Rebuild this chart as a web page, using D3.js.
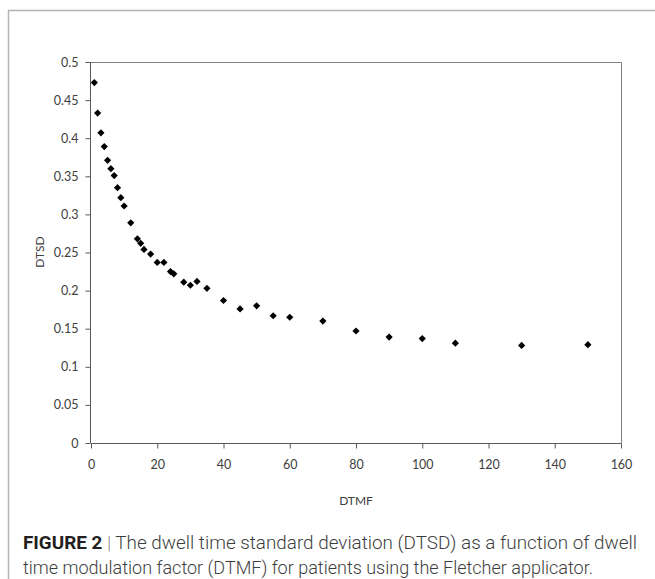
<!DOCTYPE html>
<html>
<head>
<meta charset="utf-8">
<script src="https://cdn.jsdelivr.net/npm/d3@7"></script>
<style>
  body { margin: 0; background: #fff; }
  svg { display: block; }
</style>
</head>
<body>
<svg width="655" height="579"></svg>
<script>
// DTMF (x) and DTSD (y) values
const dtmf = [1, 2, 3, 4, 5, 6, 7, 8, 9, 10, 12, 14, 15, 16, 18, 20, 22, 24, 25,
  28, 30, 32, 35, 40, 45, 50, 55, 60, 70, 80, 90, 100, 110, 130, 150];
const dtsd = [0.473, 0.433, 0.407, 0.389, 0.371, 0.360, 0.351, 0.335, 0.322, 0.311,
  0.289, 0.268, 0.262, 0.254, 0.248, 0.237, 0.237, 0.225, 0.222,
  0.211, 0.207, 0.212, 0.203, 0.187, 0.176, 0.180, 0.167, 0.165, 0.160,
  0.147, 0.139, 0.137, 0.131, 0.128, 0.129];
const xTicks = [0, 20, 40, 60, 80, 100, 120, 140, 160];
const yTicks = [0, 0.05, 0.1, 0.15, 0.2, 0.25, 0.3, 0.35, 0.4, 0.45, 0.5];

const data = dtmf.map((x, i) => ({ x: x, y: dtsd[i] }));

const svg = d3.select('svg');

// figure frame
svg.append('path')
  .attr('d', 'M8.5,579 V10.5 H655')
  .attr('fill', 'none')
  .attr('stroke', '#b4b4b4')
  .attr('stroke-width', 1.5);

const margin = { left: 91, top: 62, right: 621, bottom: 443 };

const xScale = d3.scaleLinear().domain([0, 160]).range([margin.left, margin.right]);
const yScale = d3.scaleLinear().domain([0, 0.5]).range([margin.bottom, margin.top]);

// plot area border (top / right)
svg.append('path')
  .attr('d', `M${margin.left},${margin.top + 0.5} H${margin.right + 0.5} V${margin.bottom}`)
  .attr('fill', 'none')
  .attr('stroke', '#7f7f7f')
  .attr('stroke-width', 1);

const tickFont = 'Lato, "Open Sans", sans-serif';

// x axis
const xAxisG = svg.append('g')
  .attr('transform', `translate(0,${margin.bottom + 0.5})`)
  .call(d3.axisBottom(xScale).tickValues(xTicks).tickSize(5).tickPadding(12).tickFormat(d3.format('d')));
xAxisG.select('.domain').attr('stroke', '#595959').attr('d', `M${margin.left},0H${margin.right + 0.5}`);
xAxisG.selectAll('line').attr('stroke', '#595959');
xAxisG.selectAll('text')
  .attr('fill', '#404040')
  .style('font-family', tickFont)
  .style('font-size', '12.5px');

// y axis
const yAxisG = svg.append('g')
  .attr('transform', `translate(${margin.left - 0.5},0)`)
  .call(d3.axisLeft(yScale).tickValues(yTicks).tickSize(5).tickPadding(7).tickFormat(d => d3.format('')(+d.toFixed(2))));
yAxisG.select('.domain').attr('stroke', '#595959').attr('d', `M0,${margin.bottom}V${margin.top}`);
yAxisG.selectAll('line').attr('stroke', '#595959');
yAxisG.selectAll('text')
  .attr('fill', '#404040')
  .style('font-family', tickFont)
  .style('font-size', '12.5px');

// axis titles
svg.append('text')
  .attr('x', 356)
  .attr('y', 505)
  .attr('text-anchor', 'middle')
  .attr('fill', '#404040')
  .style('font-family', tickFont)
  .style('font-size', '12px')
  .text('DTMF');

svg.append('text')
  .attr('transform', `translate(44,252) rotate(-90)`)
  .attr('text-anchor', 'middle')
  .attr('fill', '#404040')
  .style('font-family', tickFont)
  .style('font-size', '12px')
  .text('DTSD');

// data points
const diamond = d3.symbol().type(d3.symbolSquare).size(26);
svg.append('g').selectAll('path').data(data)
  .enter().append('path')
  .attr('d', diamond)
  .attr('transform', d => `translate(${xScale(d.x)},${yScale(d.y)}) rotate(45)`)
  .attr('fill', '#000');

// caption
const capFont = 'Roboto, "Liberation Sans", sans-serif';
const cap1 = svg.append('text')
  .attr('x', 23)
  .attr('y', 549)
  .attr('textLength', 614)
  .attr('lengthAdjust', 'spacingAndGlyphs')
  .attr('fill', '#3d3d3d')
  .style('font-family', capFont)
  .style('font-weight', 300)
  .style('font-size', '18px');
cap1.append('tspan').style('font-weight', 'bold').attr('fill', '#231f20').text('FIGURE 2');
cap1.append('tspan').attr('fill', '#888').text(' | ');
cap1.append('tspan').text('The dwell time standard deviation (DTSD) as a function of dwell');

svg.append('text')
  .attr('x', 23)
  .attr('y', 574)
  .attr('textLength', 570)
  .attr('lengthAdjust', 'spacingAndGlyphs')
  .attr('fill', '#3d3d3d')
  .style('font-family', capFont)
  .style('font-weight', 300)
  .style('font-size', '18px')
  .text('time modulation factor (DTMF) for patients using the Fletcher applicator.');
</script>
</body>
</html>
